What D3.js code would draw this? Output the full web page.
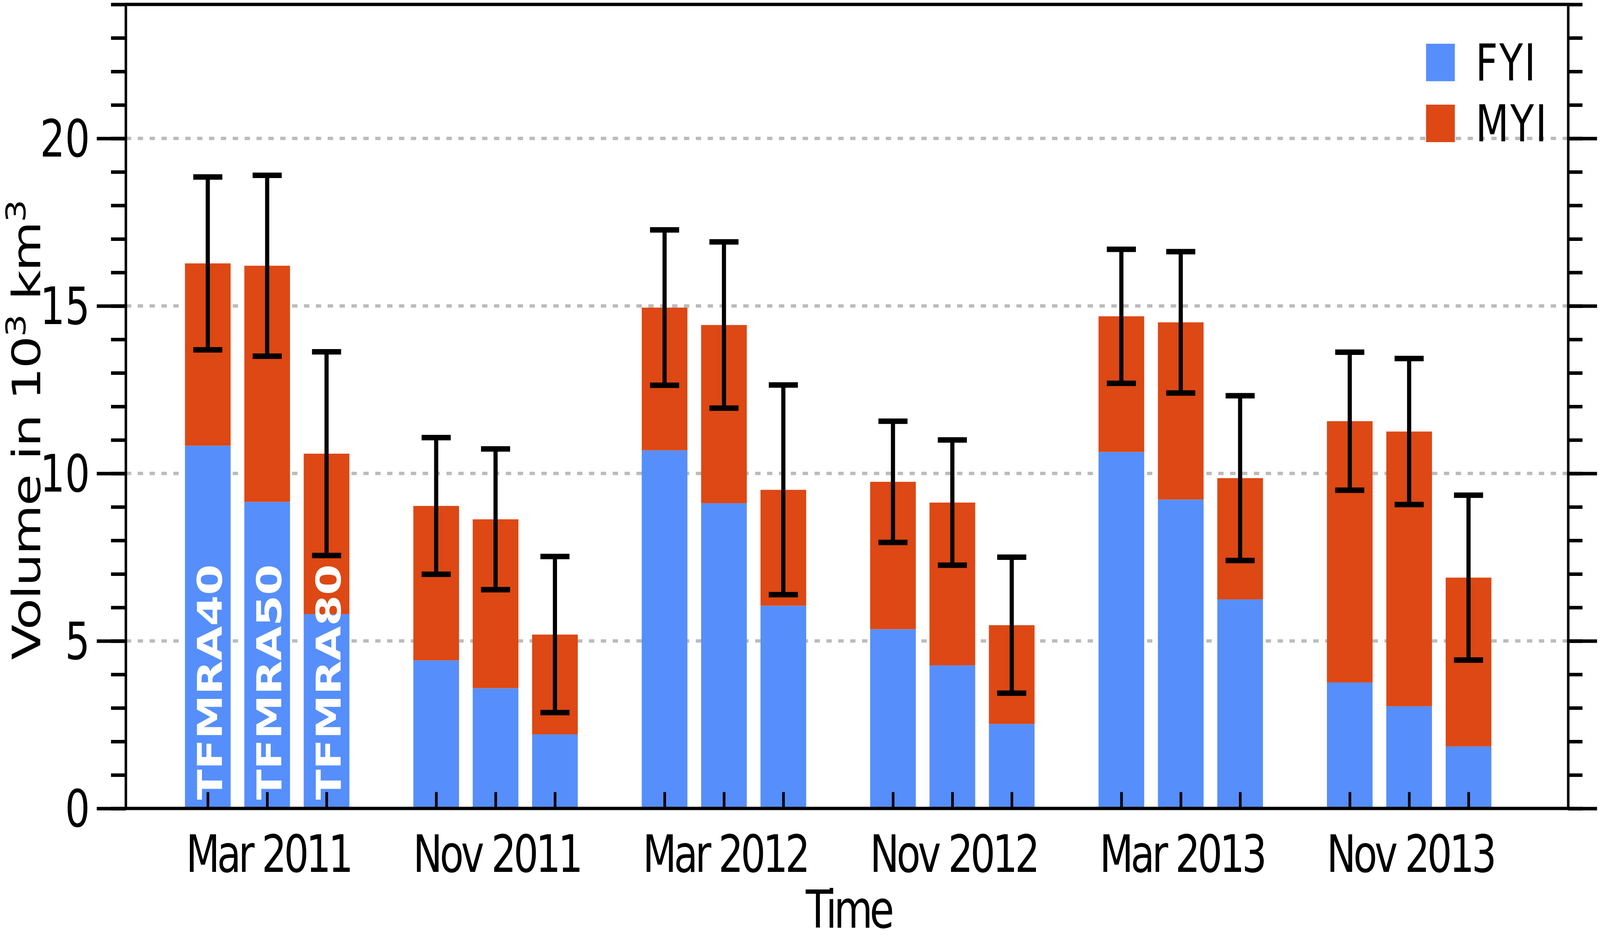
<!DOCTYPE html>
<html>
<head>
<meta charset="utf-8">
<script src="https://cdn.jsdelivr.net/npm/d3@7"></script>
<style>
html, body { margin: 0; padding: 0; background: #fff; overflow: hidden; width: 100%; height: 100%; }
svg { display: block; width: 100vw; height: 100vh; }
text { font-family: "DejaVu Sans", sans-serif; }
</style>
</head>
<body>
<svg id="chart" viewBox="0 0 5390 2410" preserveAspectRatio="none"></svg>
<script>
// ---------------- data ----------------
const periods = ["Mar 2011", "Nov 2011", "Mar 2012", "Nov 2012", "Mar 2013", "Nov 2013"];
const products = ["TFMRA40", "TFMRA50", "TFMRA80"];

// first-year ice volume (10^3 km^3)
const fyi40 = [10.83, 4.42, 10.69, 5.35, 10.64, 3.76];
const fyi50 = [9.15, 3.59, 9.11, 4.27, 9.22, 3.05];
const fyi80 = [5.80, 2.21, 6.05, 2.52, 6.24, 1.85];

// multi-year ice volume (10^3 km^3), stacked on FYI
const myi40 = [5.44, 4.61, 4.26, 4.40, 4.05, 7.80];
const myi50 = [7.05, 5.04, 5.32, 4.86, 5.29, 8.20];
const myi80 = [4.79, 2.98, 3.46, 2.95, 3.62, 5.04];

// total-volume uncertainty (half-width of error bar)
const err40 = [2.58, 2.04, 2.32, 1.81, 2.00, 2.06];
const err50 = [2.70, 2.10, 2.48, 1.87, 2.11, 2.18];
const err80 = [3.04, 2.33, 3.13, 2.03, 2.46, 2.46];

const yMajorTicks = [0, 5, 10, 15, 20];
const yMinorTicks = [0, 1, 2, 3, 4, 5, 6, 7, 8, 9, 10, 11, 12, 13, 14, 15, 16, 17, 18, 19, 20, 21, 22, 23, 24];
const gridValues = [5, 10, 15, 20];
const seriesNames = ["FYI", "MYI"];

// ---------------- layout & style ----------------
const colors = { FYI: "#568ffb", MYI: "#dd4814" };
const plot = { left: 424, right: 5283, top: 11.3, bottom: 2070.5 };
const barOffset = 0.26, barWidth = 0.2;

const fyiBy = [fyi40, fyi50, fyi80];
const myiBy = [myi40, myi50, myi80];
const errBy = [err40, err50, err80];

const rows = [];
periods.forEach((p, g) => {
  products.forEach((prod, j) => {
    rows.push({
      period: p, product: prod, g: g, j: j,
      pos: g + (j - 1) * barOffset,
      fyi: fyiBy[j][g], myi: myiBy[j][g], err: errBy[j][g]
    });
  });
});

const svg = d3.select("#chart");
const x = d3.scaleLinear().domain([-0.6187, 5.6966]).range([plot.left, plot.right]);
const y = d3.scaleLinear().domain([0, 24]).range([plot.bottom, plot.top]);

// grid lines
svg.append("g").selectAll("line").data(gridValues).join("line")
  .attr("x1", plot.left).attr("x2", plot.right)
  .attr("y1", d => y(d)).attr("y2", d => y(d))
  .attr("stroke", "#bbbbbb").attr("stroke-width", 8.5)
  .attr("stroke-dasharray", "18,22");

// bars
const bw = x(barWidth) - x(0);
const bars = svg.append("g");
bars.selectAll("rect.fyi").data(rows).join("rect").attr("class", "fyi")
  .attr("x", d => x(d.pos) - bw / 2).attr("width", bw)
  .attr("y", d => y(d.fyi)).attr("height", d => y(0) - y(d.fyi))
  .attr("fill", colors.FYI);
bars.selectAll("rect.myi").data(rows).join("rect").attr("class", "myi")
  .attr("x", d => x(d.pos) - bw / 2).attr("width", bw)
  .attr("y", d => y(d.fyi + d.myi)).attr("height", d => y(d.fyi) - y(d.fyi + d.myi))
  .attr("fill", colors.MYI);

// error bars
const capHalf = 49;
const eb = svg.append("g").attr("stroke", "#000").attr("stroke-width", 14);
eb.selectAll("line.v").data(rows).join("line").attr("class", "v")
  .attr("x1", d => x(d.pos)).attr("x2", d => x(d.pos))
  .attr("y1", d => y(d.fyi + d.myi + d.err)).attr("y2", d => y(d.fyi + d.myi - d.err));
eb.selectAll("line.t").data(rows).join("line").attr("class", "t")
  .attr("x1", d => x(d.pos) - capHalf).attr("x2", d => x(d.pos) + capHalf)
  .attr("y1", d => y(d.fyi + d.myi + d.err)).attr("y2", d => y(d.fyi + d.myi + d.err));
eb.selectAll("line.b").data(rows).join("line").attr("class", "b")
  .attr("x1", d => x(d.pos) - capHalf).attr("x2", d => x(d.pos) + capHalf)
  .attr("y1", d => y(d.fyi + d.myi - d.err)).attr("y2", d => y(d.fyi + d.myi - d.err));

// product labels inside the first group's bars
svg.append("g").selectAll("text").data(rows.filter(d => d.g === 0)).join("text")
  .attr("transform", d => `translate(${x(d.pos) + 48},${y(0) - 22}) rotate(-90)`)
  .attr("font-size", 114).attr("font-weight", "bold").attr("fill", "#fff")
  .text(d => d.product);

// axes
function styleAxis(sel) {
  sel.select(".domain").remove();
  sel.selectAll(".tick line").attr("stroke", "#000").attr("stroke-width", 9);
  sel.attr("font-family", "DejaVu Sans").attr("font-size", 132);
  sel.selectAll("text").attr("fill", "#000");
}
svg.append("g").attr("transform", `translate(${plot.left},0)`)
  .call(d3.axisLeft(y).tickValues(yMinorTicks).tickSize(50).tickFormat(""))
  .call(styleAxis);
svg.append("g").attr("transform", `translate(${plot.left},0)`)
  .call(d3.axisLeft(y).tickValues(yMajorTicks).tickSize(98).tickPadding(23).tickFormat(d3.format("d")))
  .call(styleAxis)
  .call(g => g.selectAll("text").attr("dy", "0.35em"));
svg.append("g").attr("transform", `translate(${plot.right},0)`)
  .call(d3.axisRight(y).tickValues(yMinorTicks).tickSize(48).tickFormat(""))
  .call(styleAxis);
svg.append("g").attr("transform", `translate(${plot.right},0)`)
  .call(d3.axisRight(y).tickValues(yMajorTicks).tickSize(97).tickFormat(""))
  .call(styleAxis);
svg.append("g").attr("transform", `translate(0,${plot.bottom})`)
  .call(d3.axisBottom(x).tickValues(rows.map(d => d.pos)).tickSize(-42).tickFormat(""))
  .call(styleAxis);

// spines
svg.append("rect")
  .attr("x", plot.left).attr("y", plot.top)
  .attr("width", plot.right - plot.left).attr("height", plot.bottom - plot.top)
  .attr("fill", "none").attr("stroke", "#000").attr("stroke-width", 8.5);

// period labels
svg.append("g").selectAll("text").data(periods).join("text")
  .attr("x", (d, i) => x(i) + 4).attr("y", 2233)
  .attr("text-anchor", "middle").attr("font-size", 132).attr("letter-spacing", -9)
  .attr("fill", "#000").text(d => d);

// axis titles
svg.append("text").attr("x", (plot.left + plot.right) / 2 + 5).attr("y", 2376)
  .attr("text-anchor", "middle").attr("font-size", 134).attr("letter-spacing", -10)
  .attr("fill", "#000").text("Time");

const yl = svg.append("text").attr("transform", "translate(136,1690) rotate(-90)")
  .attr("font-size", 132).attr("letter-spacing", -3).attr("fill", "#000");
yl.append("tspan").text("Volume in 10");
yl.append("tspan").attr("font-size", 92).attr("dy", -51).text("3");
yl.append("tspan").attr("dy", 51).text(" km");
yl.append("tspan").attr("font-size", 92).attr("dy", -51).text("3");

// legend
const leg = svg.append("g").selectAll("g").data(seriesNames).join("g")
  .attr("transform", (d, i) => `translate(4804,${112 + i * 156})`);
leg.append("rect").attr("width", 97).attr("height", 96).attr("fill", d => colors[d]);
leg.append("text").attr("x", 167).attr("y", 94).attr("font-size", 130)
  .attr("letter-spacing", 5).attr("fill", "#000").text(d => d);
</script>
</body>
</html>
